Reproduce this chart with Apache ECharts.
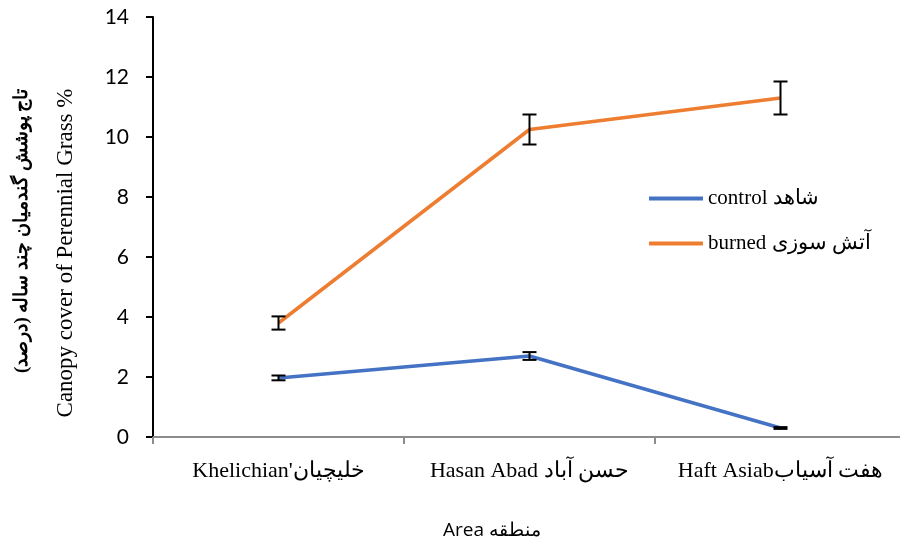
<!DOCTYPE html>
<html>
<head>
<meta charset="utf-8">
<script src="https://cdn.jsdelivr.net/npm/echarts@6/dist/echarts.min.js"></script>
<style>
  html, body { margin: 0; padding: 0; background: #fff; }
  #chart { width: 900px; height: 549px; }
</style>
</head>
<body>
<div id="chart"></div>
<script>
// data
var categories = ["Khelichian'خلیچیان", 'Hasan Abad حسن آباد', 'Haft Asiabهفت آسیاب'];
var controlName = 'control شاهد';
var burnedName = 'burned آتش سوزی';
var control = [1.97, 2.7, 0.3];
var controlErr = [0.08, 0.13, 0.03];
var burned = [3.8, 10.25, 11.3];
var burnedErr = [0.22, 0.5, 0.55];
var yTicks = [0, 2, 4, 6, 8, 10, 12, 14];

var serif = '"Liberation Serif", "Noto Sans", serif';

function errData (vals, errs) {
    return vals.map(function (v, i) {
        return [i, v - errs[i], v + errs[i]];
    });
}

// error bar: vertical stem + two caps
function renderErr (params, api) {
    var lo = api.coord([api.value(0), api.value(1)]);
    var hi = api.coord([api.value(0), api.value(2)]);
    var w = 7;
    var st = { stroke: '#000', lineWidth: 2 };
    return {
        type: 'group',
        children: [
            { type: 'line', shape: { x1: hi[0], y1: hi[1], x2: lo[0], y2: lo[1] }, style: st },
            { type: 'line', shape: { x1: hi[0] - w, y1: hi[1], x2: hi[0] + w, y2: hi[1] }, style: st },
            { type: 'line', shape: { x1: lo[0] - w, y1: lo[1], x2: lo[0] + w, y2: lo[1] }, style: st }
        ]
    };
}

var chart = echarts.init(document.getElementById('chart'));
chart.setOption({
    animation: false,
    grid: { left: 153, right: -6, top: 17, bottom: 112, containLabel: false, outerBoundsMode: 'none' },
    legend: {
        orient: 'vertical',
        left: 644,
        top: 183,
        itemWidth: 54,
        itemHeight: 4,
        itemGap: 24,
        icon: 'rect',
        textStyle: { fontFamily: serif, fontSize: 21, color: '#000' },
        data: [controlName, burnedName]
    },
    xAxis: {
        type: 'category',
        data: categories,
        boundaryGap: true,
        axisLine: { lineStyle: { color: '#8c8c8c', width: 2 } },
        axisTick: { show: true, interval: 0, length: 7, lineStyle: { color: '#8c8c8c', width: 2 } },
        axisLabel: { interval: 0, margin: 23, fontFamily: serif, fontSize: 22, color: '#000' },
        splitLine: { show: false }
    },
    yAxis: {
        type: 'value',
        min: yTicks[0],
        max: yTicks[yTicks.length - 1],
        interval: 2,
        name: '{fa|تاج پوشش گندمیان چند ساله (درصد)}\n{en|Canopy cover of Perennial Grass %}',
        nameLocation: 'middle',
        nameGap: 65,
        nameRotate: 90,
        nameTextStyle: {
            color: '#000',
            padding: [0, 52, 0, 0],
            rich: {
                fa: { fontFamily: serif, fontSize: 19, fontWeight: 'bold', color: '#000', lineHeight: 44, align: 'right' },
                en: { fontFamily: serif, fontSize: 23, color: '#000', lineHeight: 44, align: 'right' }
            }
        },
        axisLine: { show: true, lineStyle: { color: '#000', width: 2 } },
        axisTick: { show: true, length: 7, lineStyle: { color: '#000', width: 2 } },
        axisLabel: { margin: 24, fontFamily: 'Lato, "Open Sans", sans-serif', fontSize: 21, color: '#000' },
        splitLine: { show: false }
    },
    graphic: [{
        type: 'text',
        left: 443,
        top: 521,
        style: { text: 'Area منطقه', font: '19px "Open Sans", "Noto Sans", sans-serif', fill: '#000' }
    }],
    series: [
        {
            name: controlName,
            type: 'line',
            data: control,
            symbol: 'none',
            lineStyle: { color: '#4472C4', width: 3.5 },
            itemStyle: { color: '#4472C4' },
            z: 2
        },
        {
            name: burnedName,
            type: 'line',
            data: burned,
            symbol: 'none',
            lineStyle: { color: '#ED7D31', width: 3.5 },
            itemStyle: { color: '#ED7D31' },
            z: 2
        },
        {
            type: 'custom',
            renderItem: renderErr,
            data: errData(control, controlErr),
            z: 3
        },
        {
            type: 'custom',
            renderItem: renderErr,
            data: errData(burned, burnedErr),
            z: 3
        }
    ]
});
</script>
</body>
</html>
